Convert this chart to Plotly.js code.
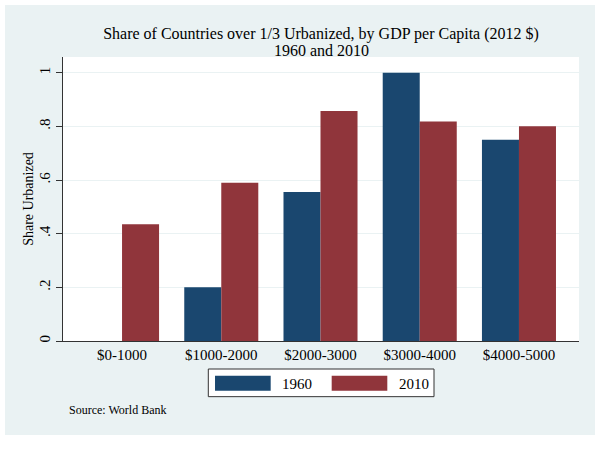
<!DOCTYPE html>
<html>
<head>
<meta charset="utf-8">
<script src="https://cdn.plot.ly/plotly-3.0.1.min.js"></script>
<style>
  html, body { margin: 0; padding: 0; background: #ffffff; }
  #chart { position: absolute; left: 5px; top: 5px; width: 590px; height: 430px; }
</style>
</head>
<body>
<div id="chart"></div>
<script>
// ---- data ----
const categories = ["$0-1000", "$1000-2000", "$2000-3000", "$3000-4000", "$4000-5000"];
const share1960 = [0, 0.20, 0.555, 1.0, 0.75];
const share2010 = [0.435, 0.59, 0.857, 0.818, 0.80];
const seriesNames = ["1960", "2010"];
const yTickVals = [0, 0.2, 0.4, 0.6, 0.8, 1];
const yTickText = ["0", ".2", ".4", ".6", ".8", "1"];
const titleLine1 = "Share of Countries over 1/3 Urbanized, by GDP per Capita (2012 $)";
const titleLine2 = "1960 and 2010";
const sourceNote = "Source: World Bank";

// ---- style ----
const FONT = "Liberation Serif";
const BLUE = "#1a476f";
const RED = "#90353b";
const BG = "#eaf2f3";
const AXIS = "#333333";

const traces = [
  { type: "bar", x: categories, y: share1960, name: seriesNames[0],
    marker: { color: BLUE, line: { width: 0 } }, showlegend: false },
  { type: "bar", x: categories, y: share2010, name: seriesNames[1],
    marker: { color: RED, line: { width: 0 } }, showlegend: false }
];

// custom legend (wide swatches, Stata style)
const legendShapes = [
  { type: "rect", xref: "paper", yref: "paper", x0: 0.2816, x1: 0.719, y0: -0.196, y1: -0.0986,
    fillcolor: "#ffffff", line: { color: AXIS, width: 1 } },
  { type: "rect", xref: "paper", yref: "paper", x0: 0.2946, x1: 0.4025, y0: -0.175, y1: -0.1222,
    fillcolor: BLUE, line: { width: 0 } },
  { type: "rect", xref: "paper", yref: "paper", x0: 0.5207, x1: 0.6285, y0: -0.175, y1: -0.1222,
    fillcolor: RED, line: { width: 0 } }
];

const annotations = [
  { text: titleLine2, xref: "paper", yref: "paper", x: 0.5, y: 1.0246, xanchor: "center", yanchor: "middle",
    showarrow: false, font: { family: FONT, size: 16, color: "#000000" } },
  { text: seriesNames[0], xref: "paper", yref: "paper", x: 0.4205, y: -0.1514, xanchor: "left", yanchor: "middle",
    showarrow: false, font: { family: FONT, size: 15, color: "#000000" } },
  { text: seriesNames[1], xref: "paper", yref: "paper", x: 0.6467, y: -0.1514, xanchor: "left", yanchor: "middle",
    showarrow: false, font: { family: FONT, size: 15, color: "#000000" } },
  { text: sourceNote, xref: "paper", yref: "paper", x: 0.0072, y: -0.243, xanchor: "left", yanchor: "middle",
    showarrow: false, font: { family: FONT, size: 12, color: "#000000" } }
];

const layout = {
  width: 590, height: 430,
  margin: { l: 58, r: 16, t: 52, b: 94, pad: 0 },
  paper_bgcolor: BG,
  plot_bgcolor: "#ffffff",
  font: { family: FONT, size: 15, color: "#000000" },
  barmode: "group",
  bargap: 0.254,
  bargroupgap: 0,
  showlegend: false,
  title: {
    text: titleLine1,
    font: { family: FONT, size: 16, color: "#000000" },
    x: 0.5, xref: "paper", xanchor: "center",
    y: 1 - 28 / 430, yref: "container", yanchor: "middle"
  },
  xaxis: {
    type: "category",
    range: [-0.595, 4.605],
    showline: true, linecolor: AXIS, linewidth: 1,
    ticks: "", showgrid: false, zeroline: false,
    tickfont: { family: FONT, size: 15, color: "#000000" },
    fixedrange: true
  },
  yaxis: {
    range: [0, 1.0585],
    tickvals: yTickVals, ticktext: yTickText,
    tickangle: -90,
    ticks: "outside", ticklen: 6, tickcolor: AXIS, tickwidth: 1,
    showline: true, linecolor: AXIS, linewidth: 1,
    showgrid: true, gridcolor: BG, gridwidth: 1,
    zeroline: false,
    tickfont: { family: FONT, size: 15, color: "#000000" },
    title: { text: "Share Urbanized", font: { family: FONT, size: 14, color: "#000000" }, standoff: 0 },
    automargin: false,
    fixedrange: true
  },
  shapes: legendShapes,
  annotations: annotations
};

Plotly.newPlot("chart", traces, layout, { displayModeBar: false, staticPlot: true });
</script>
</body>
</html>
